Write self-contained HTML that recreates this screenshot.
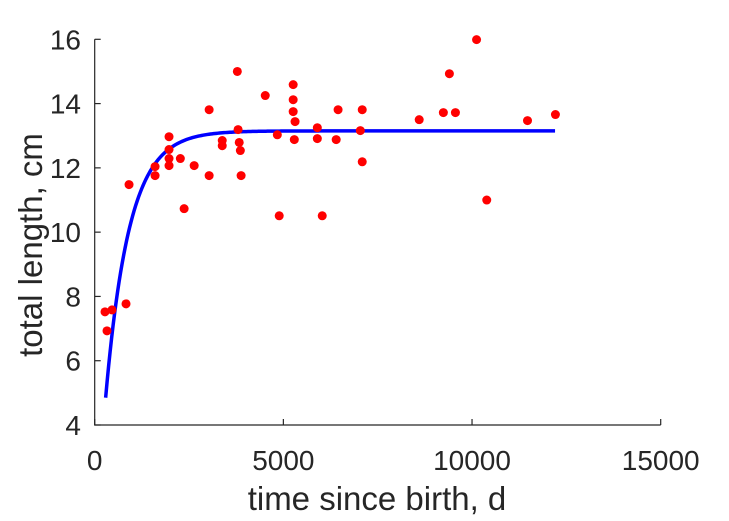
<!DOCTYPE html>
<html><head><meta charset="utf-8"><style>
body{margin:0;background:#fff;}
svg{display:block;font-family:"Liberation Sans",sans-serif;}
</style></head><body>
<svg id="chart" width="729" height="521" viewBox="0 0 729 521"></svg>
<script>
const xTicks=[0,5000,10000,15000];
const yTicks=[4,6,8,10,12,14,16];
const obsT=[273,326,459,830,910,1600,1600,1970,1970,1970,1970,2270,2370,2636,3033,3033,3380,3380,3780,3800,3830,3860,3880,4520,4840,4890,5260,5260,5260,5310,5290,5900,5900,6030,6400,6450,7040,7090,7090,8600,9240,9400,9560,10120,10390,11470,12210];
const obsL=[7.52,6.93,7.58,7.77,11.48,12.04,11.76,12.97,12.57,12.29,12.07,12.29,10.73,12.07,13.81,11.76,12.85,12.69,15.0,13.19,12.79,12.54,11.76,14.25,13.03,10.51,14.59,14.12,13.75,13.44,12.88,13.25,12.91,10.51,12.88,13.81,13.16,13.81,12.19,13.5,13.72,14.93,13.72,15.99,11.0,13.47,13.66];
const fitLinf=[13.15];
const fitL0=[4.85];
const fitK=[0.0016];
const fitRange=[290,12200];

const NS="http://www.w3.org/2000/svg";
const svg=document.getElementById('chart');
const X0=94.7,X1=660.7,Y0=425,Y1=39.3;
const xs=v=>X0+(v-0)/(15000)*(X1-X0);
const ys=v=>Y0-(v-4)/12*(Y0-Y1);
function mk(t,a){const e=document.createElementNS(NS,t);for(const k in a)e.setAttribute(k,a[k]);svg.appendChild(e);return e;}

let ax=mk('path',{d:`M${X0},${Y1}V${Y0}H${X1}`,stroke:'#262626','stroke-width':1.2,fill:'none'});


xTicks.forEach(v=>{
  const t=mk('line',{x1:xs(v),x2:xs(v),y1:Y0,y2:Y0-6,stroke:'#262626','stroke-width':1.2});
  
  
  const l=mk('text',{x:xs(v),y:470,'text-anchor':'middle','font-size':28,fill:'#262626'});
  l.textContent=v;
  
  
});
yTicks.forEach(v=>{
  const t=mk('line',{x1:X0,x2:X0+6,y1:ys(v),y2:ys(v),stroke:'#262626','stroke-width':1.2});
  
  
  const l=mk('text',{x:81,y:ys(v)+10,'text-anchor':'end','font-size':28,fill:'#262626'});
  l.textContent=v;
  
  
});
let d='';
for(let i=0;i<=300;i++){
  const t=fitRange[0]+(fitRange[1]-fitRange[0])*i/300;
  const L=fitLinf[0]-(fitLinf[0]-fitL0[0])*Math.exp(-fitK[0]*(t-fitRange[0]));
  d+=(i?'L':'M')+xs(t).toFixed(2)+','+ys(L).toFixed(2);
}
const c=mk('path',{d:d,stroke:'#0000ff','stroke-width':3.5,fill:'none'});


obsT.forEach((t,i)=>{
  const p=mk('circle',{cx:xs(t),cy:ys(obsL[i]),r:4.5,fill:'#ff0000'});
  
  
});
const xl=mk('text',{x:377,y:510,'text-anchor':'middle','font-size':33,fill:'#262626'});
xl.textContent='time since birth, d';


const yl=mk('text',{x:0,y:0,'text-anchor':'middle','font-size':33,fill:'#262626',transform:'translate(42,245) rotate(-90)'});
yl.textContent='total length, cm';


</script>
</body></html>
